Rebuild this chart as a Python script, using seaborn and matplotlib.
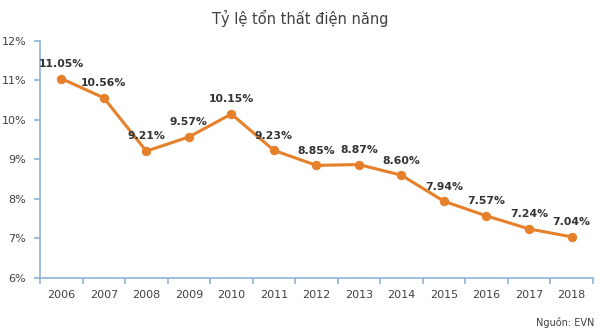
import matplotlib
matplotlib.use("Agg")
import matplotlib.pyplot as plt
import seaborn as sns
import pandas as pd
from matplotlib.ticker import FuncFormatter

years = ["2006", "2007", "2008", "2009", "2010", "2011", "2012", "2013", "2014", "2015", "2016", "2017", "2018"]
loss_rate = [11.05, 10.56, 9.21, 9.57, 10.15, 9.23, 8.85, 8.87, 8.60, 7.94, 7.57, 7.24, 7.04]
value_labels = ["11.05%", "10.56%", "9.21%", "9.57%", "10.15%", "9.23%", "8.85%", "8.87%", "8.60%", "7.94%", "7.57%", "7.24%", "7.04%"]
y_ticks = [6, 7, 8, 9, 10, 11, 12]

sns.set_theme(style="white")
plt.rcParams['font.family'] = ['DejaVu Sans']

df = pd.DataFrame({"year": years, "rate": loss_rate})

fig = plt.figure(figsize=(6.0, 3.32), dpi=100)
ax = fig.add_axes([0.0667, 0.163, 0.9213, 0.7135])

orange = "#E6802A"
sns.lineplot(data=df, x="year", y="rate", ax=ax, color=orange, linewidth=2.2,
             marker="o", markersize=6, markeredgecolor=orange, sort=False)

for i, (v, lab) in enumerate(zip(loss_rate, value_labels)):
    ax.annotate(lab, (i, v), xytext=(0, 7), textcoords="offset points",
                ha="center", va="bottom", fontsize=7.8, fontweight="bold", color="#333333")

ax.set_ylim(6, 12)
ax.set_xlim(-0.5, len(years) - 0.5)
ax.set_yticks(y_ticks)
ax.yaxis.set_major_formatter(FuncFormatter(lambda v, p: f"{v:.0f}%"))
ax.set_xticks(range(len(years)))
ax.set_xticklabels(years)
ax.set_xlabel("")
ax.set_ylabel("")

spine_col = "#8DB3D9"
for s in ["top", "right"]:
    ax.spines[s].set_visible(False)
for s in ["left", "bottom"]:
    ax.spines[s].set_color(spine_col)
    ax.spines[s].set_linewidth(1.2)

# x ticks at category boundaries
ax.tick_params(axis="x", which="major", length=0, labelsize=8, labelcolor="#404040", pad=9)
ax.set_xticks([i - 0.5 for i in range(len(years) + 1)], minor=True)
ax.tick_params(axis="x", which="minor", length=4, color=spine_col, width=1.2, direction="out")
ax.tick_params(axis="y", which="major", length=4, color=spine_col, width=1.2, direction="out",
               labelsize=8, labelcolor="#404040", pad=6)
ax.tick_params(left=True, bottom=False)
ax.xaxis.set_tick_params(which="minor", bottom=True)

fig.text(0.5, 0.945, "Tỷ lệ tổn thất điện năng", ha="center", va="center", fontsize=10.5, color="#404040")
fig.text(0.99, 0.028, "Nguồn: EVN", ha="right", va="center", fontsize=7, color="#404040")

fig.savefig("out.png", dpi=100)
